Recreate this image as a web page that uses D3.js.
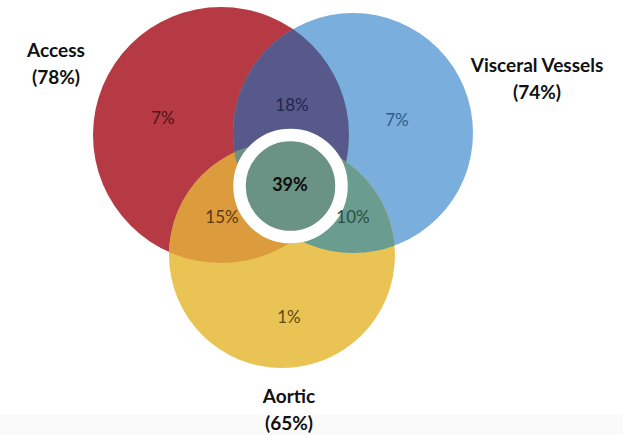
<!DOCTYPE html>
<html>
<head>
<meta charset="utf-8">
<script src="https://cdn.jsdelivr.net/npm/d3@7/dist/d3.min.js"></script>
<style>
  html, body { margin: 0; padding: 0; background: #ffffff; }
  svg { display: block; }
</style>
</head>
<body>
<svg id="chart" width="623" height="435"></svg>
<script>
// Set names and their overall share
const setNames = ["Access", "Visceral Vessels", "Aortic"];
const setShares = [78, 74, 65];

// Region membership (indices into setNames) and share of each region
const regionSets = [[0], [1], [2], [0, 1], [0, 2], [1, 2], [0, 1, 2]];
const regionShares = [7, 7, 1, 18, 15, 10, 39];

// Colours
const regionFill = ["#b63a43", "#7aaedc", "#e9c354", "#56598a", "#dc9b3c", "#6a9c8f", "#6a9385"];
const regionText = ["#4e141a", "#2f5d88", "#5f4a12", "#23264e", "#5a3a0e", "#2b4d45", "#0d0d0d"];

const W = 623, H = 435;
const svg = d3.select("#chart");

// Geometry in pixel space through linear scales
const x = d3.scaleLinear().domain([0, 623]).range([0, W]);
const y = d3.scaleLinear().domain([0, 435]).range([0, H]);

const circles = [
  { cx: 221, cy: 135, r: 128 },
  { cx: 353, cy: 133, r: 120 },
  { cx: 282, cy: 255, r: 113 }
];

const labelPos = [
  { x: 56, y: 57 },
  { x: 537, y: 72 },
  { x: 289, y: 403 }
];

const regionLabelPos = [
  { x: 163, y: 124 }, { x: 397, y: 126 }, { x: 289, y: 323 },
  { x: 292, y: 111 }, { x: 222, y: 223 }, { x: 353, y: 223 }, { x: 290, y: 191 }
];

// faint band along the bottom edge
svg.append("rect").attr("x", 0).attr("y", y(415)).attr("width", W).attr("height", H - y(415))
  .attr("fill", "#fafafa");

const defs = svg.append("defs");
circles.forEach((c, i) => {
  defs.append("clipPath").attr("id", "clip" + i)
    .append("circle").attr("cx", x(c.cx)).attr("cy", y(c.cy)).attr("r", x(c.r) - x(0));
});

// Draw a region: circle of the first set, nested in clip paths of the rest
regionSets.forEach((sets, k) => {
  let g = svg.append("g");
  for (let j = 1; j < sets.length; j++) {
    g = g.append("g").attr("clip-path", `url(#clip${sets[j]})`);
  }
  const c = circles[sets[0]];
  g.append("circle")
    .attr("cx", x(c.cx)).attr("cy", y(c.cy)).attr("r", x(c.r) - x(0))
    .attr("fill", regionFill[k]);
});

// Highlight disc with white ring around the central region
svg.append("circle")
  .attr("cx", x(290.5)).attr("cy", y(186)).attr("r", 51)
  .attr("fill", regionFill[6]).attr("stroke", "#ffffff").attr("stroke-width", 12.5);

// Region labels
svg.selectAll("text.region")
  .data(regionShares)
  .join("text")
  .attr("class", "region")
  .attr("x", (d, i) => x(regionLabelPos[i].x))
  .attr("y", (d, i) => y(regionLabelPos[i].y))
  .attr("text-anchor", "middle")
  .attr("font-family", "Lato, 'Open Sans', sans-serif")
  .attr("font-size", (d, i) => i === 6 ? 18 : 17)
  .attr("font-weight", (d, i) => i === 6 ? 700 : 400)
  .attr("fill", (d, i) => regionText[i])
  .text(d => d + "%");

// Set labels
setNames.forEach((name, i) => {
  const p = labelPos[i];
  const t = svg.append("text")
    .attr("x", x(p.x)).attr("y", y(p.y))
    .attr("text-anchor", "middle")
    .attr("font-family", "Lato, 'Open Sans', sans-serif")
    .attr("font-size", 19)
    .attr("font-weight", 700)
    .attr("fill", "#111111");
  t.append("tspan").attr("x", x(p.x)).text(name);
  t.append("tspan").attr("x", x(p.x)).attr("dy", 27).text("(" + setShares[i] + "%)");
});
</script>
</body>
</html>
